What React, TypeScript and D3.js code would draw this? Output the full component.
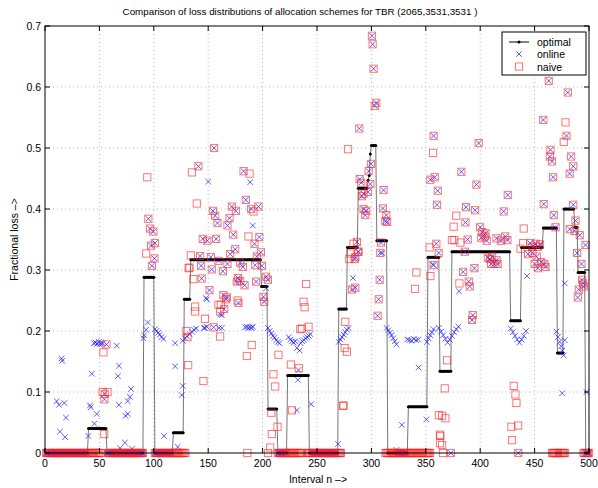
import React from "react";
import * as d3 from "d3";

const titleText = "Comparison of loss distributions of allocation schemes for TBR (2065,3531,3531 )";
const xLabelText = "Interval n –>";
const yLabelText = "Fractional loss –>";
const xTicks = [0, 50, 100, 150, 200, 250, 300, 350, 400, 450, 500];
const yTicks = [0, 0.1, 0.2, 0.3, 0.4, 0.5, 0.6, 0.7];
const legendNames = ["optimal", "online", "naive"];

// optimal allocation: runs of [startN, endN, loss]
const optimalSteps: [number, number, number][] = [
  [1, 39, 0], [40, 56, 0.04], [57, 90, 0], [91, 100, 0.288], [101, 117, 0], [118, 127, 0.033],
  [128, 133, 0.252], [134, 198, 0.317], [199, 204, 0.273], [205, 213, 0.072], [214, 222, 0],
  [223, 242, 0.127], [243, 269, 0], [270, 277, 0.236], [278, 287, 0.337], [288, 296, 0.434],
  [297, 297, 0.447], [298, 298, 0.455], [299, 299, 0.49], [300, 304, 0.504], [305, 314, 0.348],
  [315, 333, 0], [334, 351, 0.076], [352, 362, 0.321], [363, 373, 0.134], [374, 427, 0.33],
  [428, 437, 0.217], [438, 457, 0.337], [458, 470, 0.369], [471, 476, 0.164], [477, 486, 0.4],
  [487, 489, 0.37], [490, 496, 0.296], [497, 500, 0],
];

// intervals where a scheme lost nothing: [startN, endN]
const onlineZeroRuns: [number, number][] = [
  [1, 39], [57, 90], [101, 117], [214, 222], [245, 268], [324, 332], [497, 500],
];
const naiveZeroRuns: [number, number][] = [
  [1, 51], [58, 90], [101, 129], [214, 236], [241, 272], [313, 354], [466, 478], [495, 500],
];
const naiveZeroSingles = [186, 205, 366, 373, 435];
const onlineZeroSingles = [373, 435];

// points where online and naive coincide: [n, loss]
const sharedPoints: [number, number][] = [
  [95, 0.384], [96.6, 0.368], [99.6, 0.363], [97.5, 0.34], [101, 0.344], [100.6, 0.319], [98.2, 0.307],
  [155.5, 0.5], [141, 0.47], [182.5, 0.462], [184.6, 0.415], [171.7, 0.404], [175.4, 0.397], [154.3, 0.397],
  [156.4, 0.389], [158.5, 0.377], [169.6, 0.385], [167.7, 0.373], [189.5, 0.4], [196.2, 0.404], [173, 0.358],
  [145, 0.351], [149.3, 0.348], [157.3, 0.351], [197, 0.354], [192.6, 0.343], [174.8, 0.334], [198.4, 0.329],
  [170.2, 0.326], [142.6, 0.323], [152.4, 0.321], [159.5, 0.315], [179.4, 0.312], [194.7, 0.322],
  [143.5, 0.307], [153.3, 0.301], [163.5, 0.298], [167.7, 0.31], [181.9, 0.305], [193.2, 0.308],
  [199.3, 0.307], [144, 0.286], [177.3, 0.287], [176.3, 0.281], [179.4, 0.282], [183.4, 0.275],
  [194, 0.281], [203.3, 0.289], [204.9, 0.284], [151.2, 0.267], [164, 0.259], [167.1, 0.255],
  [200.8, 0.256], [201.5, 0.248], [164.7, 0.236], [166.5, 0.252], [177.8, 0.246], [155, 0.206],
  [300.5, 0.684], [301.1, 0.67], [302, 0.63], [304.5, 0.574], [303, 0.569], [288.9, 0.532], [299.6, 0.474],
  [297.5, 0.462], [289.2, 0.449], [290.7, 0.443], [299, 0.441], [296.9, 0.428], [292.8, 0.425],
  [291.3, 0.421], [311.2, 0.431], [292.8, 0.4], [295.3, 0.397], [294.4, 0.39], [310.6, 0.401],
  [313.7, 0.39], [312.8, 0.38], [314.4, 0.379], [286.7, 0.346], [288.2, 0.33], [285.2, 0.321],
  [308.8, 0.345], [308.2, 0.328], [287.7, 0.33], [284.6, 0.318], [285.2, 0.271], [282.2, 0.268],
  [307.6, 0.284], [306.7, 0.252], [305.7, 0.225],
  [357.2, 0.52], [358.2, 0.452], [354.2, 0.448], [361, 0.43], [360.3, 0.407], [359.7, 0.343],
  [361.8, 0.328], [357.2, 0.308],
  [382.7, 0.461], [398.6, 0.508], [396.5, 0.44], [387, 0.403], [395.3, 0.398], [386.4, 0.378],
  [388.5, 0.35], [385.8, 0.33], [384.3, 0.297], [389.5, 0.281], [390.4, 0.273], [394.7, 0.303],
  [393.1, 0.226], [392.5, 0.218], [400, 0.37], [402, 0.362], [401, 0.353], [404, 0.355], [405, 0.36],
  [406, 0.348], [407, 0.32], [409, 0.318], [411, 0.322], [410, 0.31], [413, 0.31], [416, 0.31],
  [415, 0.316], [415, 0.352], [419, 0.348], [423, 0.355], [425, 0.349], [421.6, 0.396], [425.3, 0.423],
  [446, 0.344], [448, 0.338], [451, 0.343], [453, 0.338], [455, 0.342], [444, 0.326], [448, 0.328],
  [452, 0.322], [450, 0.31], [453, 0.303], [456, 0.313], [459, 0.31], [460, 0.305],
  [458, 0.546], [463, 0.61], [464.6, 0.497], [464, 0.486], [466, 0.478], [467, 0.452], [458.4, 0.408],
  [467.6, 0.39], [469.2, 0.37], [480.5, 0.591], [479.3, 0.52], [483.6, 0.486], [485.5, 0.47],
  [482.3, 0.458], [485.5, 0.407], [487.6, 0.381], [482.3, 0.367], [486.7, 0.364], [491.5, 0.357],
  [489.1, 0.328], [496.8, 0.341], [493.1, 0.31], [493.7, 0.284], [494.6, 0.278], [495.2, 0.273],
  [490.6, 0.268], [489.7, 0.255],
  [56.5, 0.178], [54.8, 0.097], [54.6, 0.088],
];

// points only the naive scheme has
const naiveOnlyPoints: [number, number][] = [
  [94, 0.452], [93, 0.327], [135, 0.46], [188, 0.458], [139.5, 0.409], [191.6, 0.396], [187, 0.355],
  [134, 0.324], [132.8, 0.304], [136.4, 0.285], [177, 0.25], [132, 0.303], [130, 0.2], [131, 0.19],
  [131.6, 0.144], [145.6, 0.118], [147, 0.22], [161, 0.232], [159.4, 0.243], [161, 0.191], [138, 0.232],
  [138, 0.24], [161.6, 0.243], [190, 0.177], [185.5, 0.159],
  [214.6, 0.161], [226, 0.145], [233.3, 0.139], [227, 0.07], [210, 0.129], [211.6, 0.109], [213.7, 0.043],
  [208.5, 0.031], [208, 0.066], [207, 0.009], [234.6, 0.203], [236.2, 0.204], [242.2, 0.207],
  [237.6, 0.248], [238.6, 0.239], [240, 0.277], [273.9, 0.077], [276, 0.215], [275.4, 0.172],
  [277.5, 0.166], [274.4, 0.078], [278.5, 0.498], [283.6, 0.343], [280.6, 0.327], [279.7, 0.318],
  [356.7, 0.492], [353.5, 0.337], [354.2, 0.29], [341.3, 0.296], [340.1, 0.269], [362, 0.062],
  [363, 0.03], [363, 0.016], [369.5, 0.152], [367.4, 0.106], [365, 0.061], [368, 0.057], [363.4, 0.028],
  [365, 0.013], [375.6, 0.371], [378, 0.389], [376.3, 0.349], [381.8, 0.345], [374, 0.349],
  [380.9, 0.278], [440, 0.368], [437, 0.335], [439.5, 0.344], [430.8, 0.11], [432.4, 0.096],
  [433.3, 0.082], [428.7, 0.043], [434.9, 0.045], [429.3, 0.021], [478.4, 0.542], [476.8, 0.51],
  [53, 0.1], [57.5, 0.1], [53.7, 0.165], [54.5, 0.031],
];

// points only the online scheme has
const onlineOnlyPoints: [number, number][] = [
  [150, 0.445], [188.6, 0.444], [191, 0.373], [148, 0.254], [203.3, 0.27],
  [15.3, 0.155], [15.8, 0.151], [43, 0.13], [45, 0.18], [46.5, 0.181], [48, 0.179], [49.5, 0.182],
  [50.5, 0.178], [51.5, 0.181], [53, 0.18], [66, 0.176], [68, 0.143], [67, 0.126], [79, 0.105],
  [78, 0.092], [76, 0.085], [68, 0.079], [74, 0.061], [76, 0.064], [73.5, 0.017], [69, 0.008], [80, 0.007],
  [10.7, 0.085], [12.9, 0.079], [17.8, 0.082], [19.3, 0.058], [13.8, 0.035], [18.4, 0.026],
  [41.4, 0.078], [42, 0.075], [47.5, 0.064], [45.4, 0.048], [39.9, 0.028],
  [90.5, 0.188], [91, 0.193], [93, 0.202], [94.5, 0.214], [101, 0.203], [102.5, 0.2], [104, 0.197],
  [105.5, 0.194], [107, 0.19], [109, 0.187], [119.6, 0.18], [119.6, 0.142], [109.5, 0.028],
  [126.6, 0.11], [125.7, 0.095], [122, 0.01], [126.6, 0.184], [128.5, 0.188], [130.5, 0.191],
  [133, 0.195], [135, 0.199], [137, 0.202], [139, 0.204], [147, 0.205], [146, 0.205], [148.7, 0.207],
  [148.7, 0.252], [162.5, 0.226], [160, 0.205], [162.5, 0.205], [161, 0.227],
  [184, 0.206], [185.5, 0.207], [187, 0.205], [188.5, 0.206], [190, 0.205], [191, 0.207],
  [205, 0.205], [206.5, 0.2], [208, 0.196], [209.5, 0.192], [211, 0.189], [212.5, 0.185], [214, 0.182],
  [215.5, 0.18], [224, 0.19], [225.5, 0.186], [227, 0.183], [228.5, 0.181], [230, 0.183],
  [231.5, 0.172], [234, 0.168], [235, 0.18], [236.5, 0.183], [238, 0.185], [239.5, 0.188], [241, 0.19],
  [242.5, 0.192], [243.8, 0.195], [233, 0.136], [232.5, 0.12], [231.5, 0.07], [244.7, 0.08],
  [269.3, 0.015], [270, 0.182], [271.5, 0.186], [273, 0.19], [274.5, 0.194], [276, 0.198],
  [277.5, 0.202], [279, 0.205], [283, 0.287], [309.7, 0.328],
  [314, 0.205], [315.5, 0.201], [317, 0.197], [318.5, 0.193], [320, 0.188], [321.5, 0.183], [323, 0.178],
  [333, 0.186], [335, 0.185], [337, 0.184], [339, 0.187], [341, 0.185], [343, 0.186], [343.4, 0.14],
  [328, 0.046], [350.5, 0.055], [323, 0.005], [351, 0.182], [352.5, 0.188], [354, 0.193],
  [355.5, 0.198], [357, 0.203], [356.3, 0.309], [362, 0.205], [364, 0.199], [366, 0.193], [368, 0.187],
  [370, 0.181], [372, 0.186], [374, 0.192], [376, 0.198], [378, 0.203], [380, 0.207], [380.6, 0.265],
  [428, 0.204], [430, 0.198], [432, 0.192], [434, 0.186], [436, 0.181], [438, 0.186], [440, 0.192],
  [442, 0.2], [443, 0.29], [470, 0.199], [471.5, 0.19], [473, 0.182], [474.5, 0.175], [475.5, 0.168],
  [476.7, 0.16], [477.7, 0.185], [475.3, 0.098], [477.7, 0.278], [497.7, 0.1],
];

const W = 598, H = 488;
const L = 45, R = 589, T = 26, B = 453;
const FONT = "'Liberation Sans', Arial, Helvetica, sans-serif";

function expandRuns(runs: [number, number][], singles: number[]): [number, number][] {
  const out: [number, number][] = [];
  runs.forEach(([a, b]) => { for (let n = a; n <= b; n++) out.push([n, 0]); });
  singles.forEach((n) => out.push([n, 0]));
  return out;
}

export default function App() {
  const x = d3.scaleLinear().domain([0, 500]).range([L, R]);
  const y = d3.scaleLinear().domain([0, 0.7]).range([B, T]);

  const optimalPts: [number, number][] = [];
  optimalSteps.forEach(([a, b, v]) => { for (let n = a; n <= b; n++) optimalPts.push([n, v]); });
  const line = d3.line<[number, number]>().x((d) => x(d[0])).y((d) => y(d[1]));

  const online = [...expandRuns(onlineZeroRuns, onlineZeroSingles), ...sharedPoints, ...onlineOnlyPoints];
  const naive = [...expandRuns(naiveZeroRuns, naiveZeroSingles), ...sharedPoints, ...naiveOnlyPoints];

  const blue = "#1f1fff";
  const red = "#ff2020";
  const xm = 2.8;
  const sq = 3.6;

  const cross = (cx: number, cy: number, k: string) => (
    <path key={k} d={`M${cx - xm},${cy - xm}L${cx + xm},${cy + xm}M${cx - xm},${cy + xm}L${cx + xm},${cy - xm}`}
      stroke={blue} strokeWidth={0.9} strokeOpacity={0.8} fill="none" />
  );
  const square = (cx: number, cy: number, k: string) => (
    <rect key={k} x={cx - sq} y={cy - sq} width={sq * 2} height={sq * 2}
      stroke={red} strokeWidth={0.95} strokeOpacity={0.65} fill="none" />
  );

  const tickLen = 5;
  const lx = 502, ly = 32, lw = 84, lh = 43;

  return (
    <svg width={W} height={H} style={{ position: "absolute", left: 0, top: 0, background: "#fff" }}
      fontFamily={FONT}>
      <rect x={0} y={0} width={W} height={H} fill="#fff" />
      {/* grid */}
      <g stroke="#a8a8a8" strokeWidth={0.8} strokeDasharray="1,3">
        {xTicks.slice(1, -1).map((t) => <line key={"gx" + t} x1={x(t)} x2={x(t)} y1={T} y2={B} />)}
        {yTicks.slice(1, -1).map((t) => <line key={"gy" + t} x1={L} x2={R} y1={y(t)} y2={y(t)} />)}
      </g>
      {/* data */}
      <path d={line(optimalPts) || ""} fill="none" stroke="#000" strokeWidth={0.9} strokeOpacity={0.6} />
      {optimalPts.map((d, i) => <circle key={"o" + i} cx={x(d[0])} cy={y(d[1])} r={1.5} fill="#000" />)}
      {online.map((d, i) => cross(x(d[0]), y(d[1]), "c" + i))}
      {naive.map((d, i) => square(x(d[0]), y(d[1]), "s" + i))}
      {/* axes frame & ticks */}
      <rect x={L} y={T} width={R - L} height={B - T} fill="none" stroke="#000" strokeWidth={1} />
      <g stroke="#000" strokeWidth={1}>
        {xTicks.map((t) => (
          <g key={"tx" + t}>
            <line x1={x(t)} x2={x(t)} y1={B} y2={B - tickLen} />
            <line x1={x(t)} x2={x(t)} y1={T} y2={T + tickLen} />
          </g>
        ))}
        {yTicks.map((t) => (
          <g key={"ty" + t}>
            <line x1={L} x2={L + tickLen} y1={y(t)} y2={y(t)} />
            <line x1={R} x2={R - tickLen} y1={y(t)} y2={y(t)} />
          </g>
        ))}
      </g>
      <g fontSize={10.5} fill="#000">
        {xTicks.map((t) => (
          <text key={"lx" + t} x={x(t)} y={B + 14} textAnchor="middle">{t}</text>
        ))}
        {yTicks.map((t) => (
          <text key={"ly" + t} x={L - 4} y={y(t) + 4} textAnchor="end">{t === 0 ? "0" : t.toFixed(1)}</text>
        ))}
      </g>
      <text x={300} y={15} textAnchor="middle" fontSize={9.8}>{titleText}</text>
      <text x={318} y={483} textAnchor="middle" fontSize={10.5}>{xLabelText}</text>
      <text transform={`translate(18,${(T + B) / 2}) rotate(-90)`} textAnchor="middle" fontSize={10.5}>{yLabelText}</text>
      {/* legend */}
      <g>
        <rect x={lx} y={ly} width={lw} height={lh} fill="#fff" stroke="#000" strokeWidth={1} />
        <line x1={lx + 7} x2={lx + 27} y1={ly + 10} y2={ly + 10} stroke="#000" strokeWidth={1} />
        <circle cx={lx + 17} cy={ly + 10} r={1.5} fill="#000" />
        {cross(lx + 17, ly + 22, "lc")}
        {square(lx + 17, ly + 34.5, "ls")}
        {legendNames.map((nm, i) => (
          <text key={nm} x={lx + 35} y={ly + 14 + i * 12.3} fontSize={10.5}>{nm}</text>
        ))}
      </g>
    </svg>
  );
}
